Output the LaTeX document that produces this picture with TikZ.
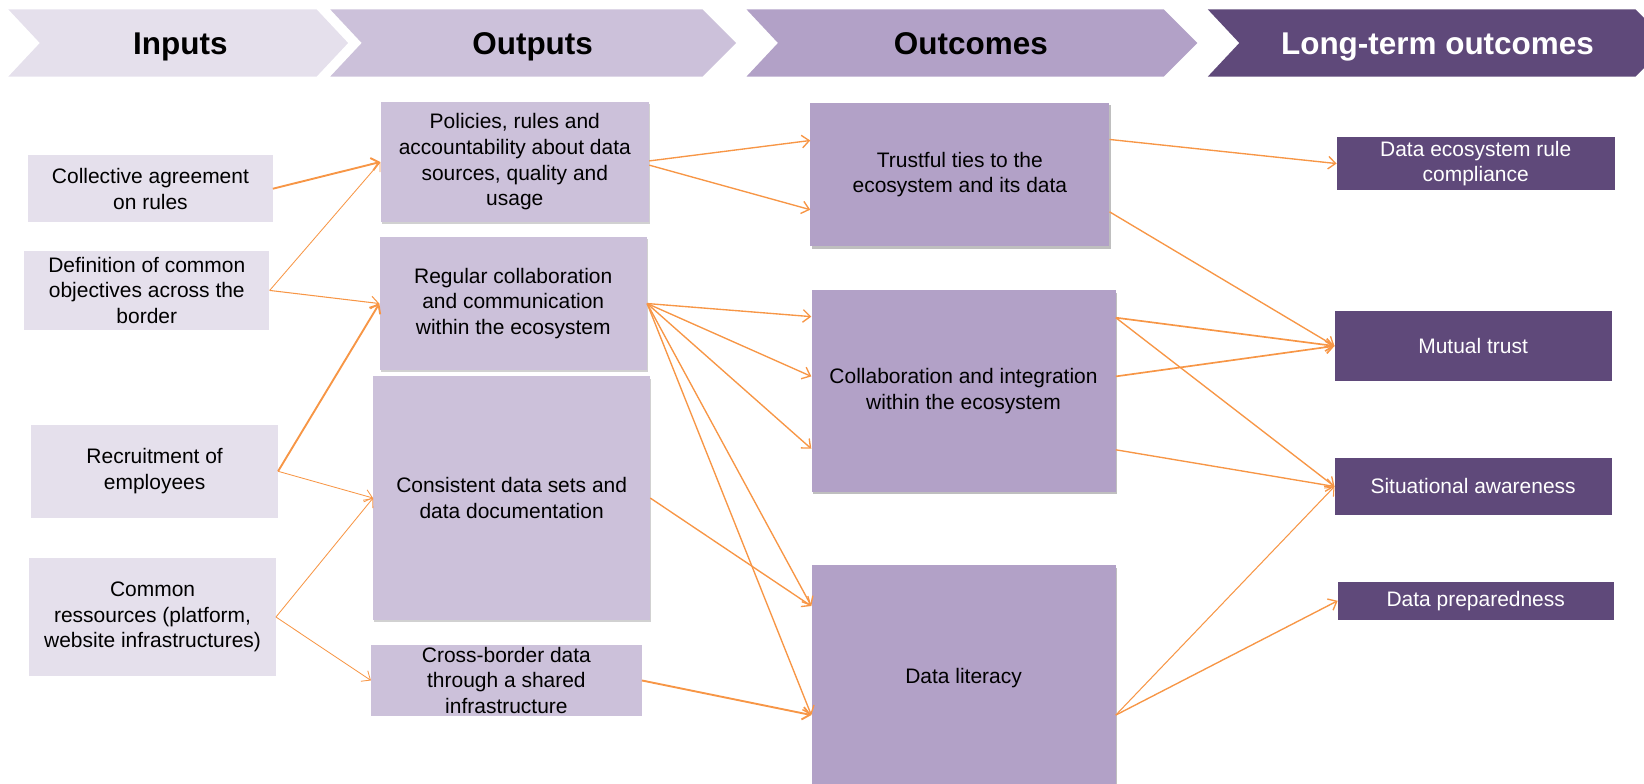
\documentclass[tikz,border=0pt]{standalone}
\usepackage{fontspec}
\setmainfont{Liberation Sans}
\usetikzlibrary{arrows.meta,shadows}
\definecolor{cin}{HTML}{E5E0EC}
\definecolor{cout}{HTML}{CCC1DA}
\definecolor{coc}{HTML}{B2A1C7}
\definecolor{clt}{HTML}{5F497A}
\definecolor{corg}{HTML}{F79646}
\begin{document}
\begin{tikzpicture}[x=1pt,y=-1pt,
  box/.style={inner sep=0pt, align=center, font=\fontsize{20}{24.5}\selectfont, text=black},
  inbox/.style={box, fill=cin},
  outbox/.style={box, fill=cout, drop shadow={shadow xshift=1pt, shadow yshift=-2pt, opacity=0.18, fill=black}},
  ocbox/.style={box, fill=coc, drop shadow={shadow xshift=1.5pt, shadow yshift=-2.5pt, opacity=0.25, fill=black}},
  ltbox/.style={box, fill=clt, text=white},
  hdr/.style={font=\fontsize{30}{36}\selectfont\bfseries, text=black, inner sep=0pt, anchor=base},
  link/.style={draw=corg, line width=1.3pt, -{Straight Barb[length=7pt,width=12pt]}},
  thinlink/.style={link, line width=0.8pt},
  thicklink/.style={link, line width=1.8pt}]
\useasboundingbox (0,0) rectangle (1568,747);

% header chevrons
\fill[cin] (8,9) -- (302,9) -- (332,41) -- (302,73) -- (8,73) -- (38,41) -- cycle;
\fill[cout] (315,9) -- (670,9) -- (702,41) -- (670,73) -- (315,73) -- (345,41) -- cycle;
\fill[coc] (712,9) -- (1110,9) -- (1142,41) -- (1110,73) -- (712,73) -- (742,41) -- cycle;
\fill[clt] (1152,9) -- (1560,9) -- (1592,41) -- (1560,73) -- (1152,73) -- (1182,41) -- cycle;
\node[hdr] (hin) at (172,52) {Inputs};
\node[hdr] (hout) at (508,52) {Outputs};
\node[hdr] (hoc) at (926,52) {Outcomes};
\node[hdr, text=white] (hlt) at (1371,52) {Long-term outcomes};

% inputs
\node[inbox, minimum width=233pt, minimum height=64pt] (collective) at (143.5,180) {Collective agreement\\on rules};
\node[inbox, minimum width=234pt, minimum height=76pt] (definition) at (140,277) {Definition of common\\objectives across the\\border};
\node[inbox, minimum width=235pt, minimum height=89pt] (recruit) at (147.5,449.5) {Recruitment of\\employees};
\node[inbox, minimum width=235pt, minimum height=113pt] (common) at (145.5,588.5) {Common\\ressources (platform,\\website infrastructures)};

% outputs
\node[outbox, minimum width=256pt, minimum height=115pt] (policies) at (491,154.5) {Policies, rules and\\accountability about data\\sources, quality and\\usage};
\node[outbox, minimum width=255pt, minimum height=127pt] (regular) at (489.5,289.5) {Regular collaboration\\and communication\\within the ecosystem};
\node[outbox, minimum width=264pt, minimum height=232pt] (consistent) at (488,475) {Consistent data sets and\\data documentation};
\node[inbox, fill=cout, minimum width=258pt, minimum height=68pt] (cross) at (483,649) {Cross-border data\\through a shared\\infrastructure};

% outcomes
\node[ocbox, minimum width=285pt, minimum height=137pt] (trustful) at (915.5,166.5) {Trustful ties to the\\ecosystem and its data};
\node[ocbox, minimum width=290pt, minimum height=192pt] (collab) at (919,373) {Collaboration and integration\\within the ecosystem};
\node[ocbox, minimum width=290pt, minimum height=216pt] (literacy) at (919,647) {Data literacy};

% long-term outcomes
\node[ltbox, minimum width=265pt, minimum height=50pt] (dataeco) at (1407.5,156) {Data ecosystem rule\\compliance};
\node[ltbox, minimum width=264pt, minimum height=66pt] (mutual) at (1405,330) {Mutual trust};
\node[ltbox, minimum width=264pt, minimum height=54pt] (situ) at (1405,464) {Situational awareness};
\node[ltbox, minimum width=263pt, minimum height=36pt] (prep) at (1407.5,573) {Data preparedness};

% inputs -> outputs
\draw[thicklink] (collective.east) -- (policies.west);
\draw[thinlink] (definition.east) -- (policies.west);
\draw[link, line width=1pt] (definition.east) -- (regular.west);
\draw[thicklink] (recruit.east) -- (regular.west);
\draw[thinlink] (recruit.east) -- (consistent.west);
\draw[thinlink] (common.east) -- (consistent.west);
\draw[thinlink] (common.east) -- (cross.west);

% outputs -> outcomes
\draw[link] ([yshift=1pt]policies.east) -- ([yshift=32.5pt]trustful.west);
\draw[link] ([yshift=-3pt]policies.east) -- ([yshift=-33.5pt]trustful.west);
\draw[link] (regular.east) -- ([yshift=71pt]collab.west);
\draw[link] (regular.east) -- ([yshift=14pt]collab.west);
\draw[link] (regular.east) -- ([yshift=-55pt]collab.west);
\draw[link] (regular.east) -- ([yshift=69pt]literacy.west);
\draw[link] (regular.east) -- ([yshift=-35pt]literacy.west);
\draw[link] (consistent.east) -- ([yshift=69pt]literacy.west);
\draw[thicklink] (cross.east) -- ([yshift=-35pt]literacy.west);

% outcomes -> long-term outcomes
\draw[link] ([yshift=33.5pt]trustful.east) -- (dataeco.west);
\draw[link] ([yshift=-35.5pt]trustful.east) -- (mutual.west);
\draw[link, line width=1.6pt] ([yshift=70pt]collab.east) -- (mutual.west);
\draw[link, line width=1.6pt] ([yshift=14pt]collab.east) -- (mutual.west);
\draw[link] ([yshift=70pt]collab.east) -- (situ.west);
\draw[link] ([yshift=-56pt]collab.east) -- (situ.west);
\draw[link, line width=1pt] ([yshift=-35pt]literacy.east) -- (situ.west);
\draw[link] ([yshift=-35pt]literacy.east) -- (prep.west);
\end{tikzpicture}
\end{document}
